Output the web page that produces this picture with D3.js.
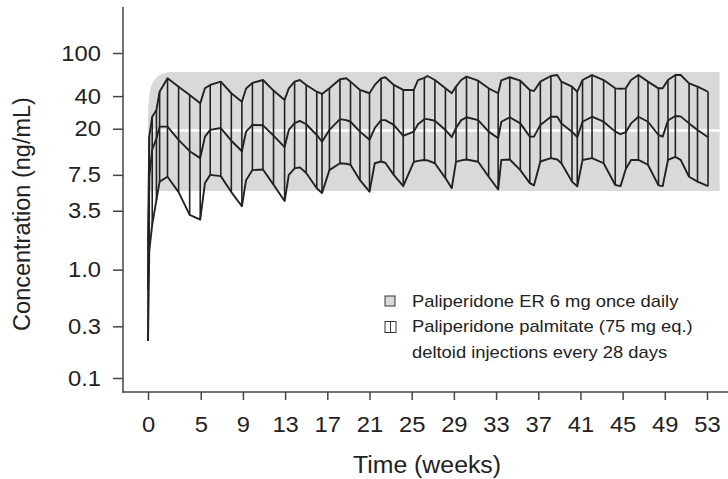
<!DOCTYPE html>
<html>
<head>
<meta charset="utf-8">
<script src="https://cdn.jsdelivr.net/npm/d3@7"></script>
<style>
  body { margin: 0; background: #fff; }
  svg { display: block; font-family: 'Liberation Sans', Arial, sans-serif; }
</style>
</head>
<body>
<svg id="chart"></svg>
<script>
// Paliperidone palmitate: weekly sample times plus the rise points right after each injection
const weeks = [
  0, 0.12, 0.4, 0.8, 1.1, 1.85, 2.9, 3.95,
  4.95, 5.4, 5.9, 6.9, 7.9,
  8.9, 9.3, 9.9, 10.9, 11.9,
  12.95, 13.35, 13.9, 14.4, 15.0, 16.0,
  16.5, 17.2, 18.2, 18.8, 19.2, 20.1,
  21.0, 21.5, 22.1, 22.5, 23.3, 24.2,
  25.2, 25.6, 26.2, 26.5, 27.2, 28.2,
  28.8, 29.2, 29.7, 30.2, 31.3, 32.3,
  33.2, 33.5, 34.3, 35.3, 36.2,
  36.6, 37.2, 38.2, 38.8, 39.2, 40.2,
  40.7, 41.2, 42.1, 43.2, 44.3,
  44.8, 45.3, 45.8, 46.5, 47.4, 48.4,
  48.8, 49.3, 50.0, 50.5, 51.3, 52.1, 53.1
]
const upper = [
  1.8, 17, 25.8, 29.8, 43.9, 58.4, 48.9, 41,
  34.3, 47.2, 50.7, 54.4, 42.5,
  35.5, 47, 53, 56.3, 45,
  36.9, 47.2, 54.4, 56.3, 50.7, 43.9,
  41.9, 47.2, 57.3, 58.4, 54.4, 45.6,
  42.5, 50.7, 58.4, 59.7, 50.7, 45.6,
  45.6, 56.3, 59, 61.3, 56.3, 47.2,
  42.5, 49, 56.3, 60.5, 55.5, 47.2,
  42.5, 56, 59.7, 55.5, 45.6,
  44.5, 54.4, 61.3, 62.6, 54.4, 48.9,
  43.9, 56.3, 62.6, 56.3, 47.2,
  46.8, 47.2, 56.3, 62.6, 54.4, 47.2,
  47.2, 56.3, 62.6, 62.6, 52.5, 48.9, 43.9
]
const median = [
  0.65, 7.2, 12.8, 16.3, 20.9, 20.9, 15.8, 12.4,
  10.7, 16.9, 19.5, 20.3, 15.5,
  12.4, 18.8, 21.7, 21.5, 17.3,
  13.5, 19.5, 22.5, 23.6, 22, 17.5,
  15.2, 19.5, 24.5, 24, 23.2, 18.8,
  15.8, 20.3, 24, 24, 21.7, 17.2,
  18.8, 22, 24.5, 24.5, 23.7, 19.5,
  16.7, 20.3, 24, 25.5, 24, 18.8,
  16.3, 23.2, 25.5, 22.4, 16.9,
  16.9, 21.7, 25.8, 25.8, 22.4, 18.8,
  16.7, 23.2, 25.8, 23.2, 18.8,
  17.8, 18.6, 22.4, 25.8, 23.2, 17.5,
  16.9, 23.8, 26.2, 26, 22.4, 19.5, 16.7
]
const lower = [
  0.22, 1.5, 2.6, 4.4, 6.5, 7.2, 5.2, 3.2,
  2.9, 6.3, 7.5, 7.3, 5.2,
  3.85, 6.7, 8.3, 8.4, 6.1,
  4.3, 7.5, 8.6, 8.8, 7.8, 5.65,
  5.1, 8.3, 9.6, 9.5, 9.3, 6.7,
  5.25, 9.6, 9.96, 9.7, 7.5, 5.9,
  9.9, 10.1, 10.3, 10.2, 9.6, 7.0,
  5.65, 9.9, 10.2, 10.4, 9.9, 7.2,
  5.5, 10.3, 10.4, 8.3, 6.3,
  6.0, 9.96, 10.7, 10.4, 9.6, 6.5,
  5.87, 10.3, 10.7, 9.6, 6.05,
  5.9, 8.5, 10.3, 10.3, 9.3, 6.0,
  5.9, 10.3, 11, 10.3, 7.2, 6.5, 5.9
]
// sample times drawn without a vertical hatch line
const noHatchWeeks = [5.4, 9.3, 13.35, 14.4, 18.8, 21.5, 22.5, 25.6, 26.5, 28.8,
  29.7, 33.5, 36.6, 38.8, 44.8, 45.8, 48.8, 50.5]

// Paliperidone ER 6 mg once daily band
const erWeeks = [0, 0.2, 0.7, 1.35, 2.1, 54.2]
const erUpper = [30, 45, 58, 64, 66.8, 66.8]
const erLower = [5.33, 5.33, 5.33, 5.33, 5.33, 5.33]
const erMedianWeeks = [0.4, 54.2]
const erMedian = [19.3, 19.3]

const xTicks = [0, 5, 9, 13, 17, 21, 25, 29, 33, 37, 41, 45, 49, 53]
const yTicks = [0.1, 0.3, 1, 3.5, 7.5, 20, 40, 100]
const yTickLabels = ['0.1', '0.3', '1.0', '3.5', '7.5', '20', '40', '100']
const legendLabels = ['Paliperidone ER 6 mg once daily',
  'Paliperidone palmitate (75 mg eq.)', 'deltoid injections every 28 days']

const width = 728
const height = 479
const lineColor = '#222'
const axisColor = '#444'
const textColor = '#222'
const stretch = 1.08

const svg = d3.select('#chart').attr('width', width).attr('height', height)

const x = d3.scaleLinear().domain([0, 53]).range([148, 707])
const y = d3.scaleLog().domain([0.1, 100]).range([378, 53])

function widen(sel) {
  sel.each(function () {
    const w = this.getComputedTextLength()
    this.setAttribute('textLength', w * stretch)
    this.setAttribute('lengthAdjust', 'spacingAndGlyphs')
  })
}

// ER band
const erData = erWeeks.map((w, i) => ({ w, hi: erUpper[i], lo: erLower[i] }))
svg.append('path')
  .datum(erData)
  .attr('fill', '#d9d9d9')
  .attr('d', d3.area()
    .x(d => x(d.w))
    .y0(d => y(d.lo))
    .y1(d => y(d.hi))
    .curve(d3.curveMonotoneX))

svg.append('path')
  .datum(erMedianWeeks.map((w, i) => ({ w, v: erMedian[i] })))
  .attr('fill', 'none')
  .attr('stroke', '#fff')
  .attr('stroke-width', 2.5)
  .attr('d', d3.line().x(d => x(d.w)).y(d => y(d.v)))

// palmitate hatch
const pts = weeks.map((w, i) => ({ w, hi: upper[i], mid: median[i], lo: lower[i] }))
svg.append('g')
  .selectAll('line')
  .data(pts.filter(d => !noHatchWeeks.includes(d.w)))
  .join('line')
  .attr('x1', d => x(d.w)).attr('x2', d => x(d.w))
  .attr('y1', d => y(d.hi)).attr('y2', d => y(d.lo))
  .attr('stroke', lineColor)
  .attr('stroke-width', 1.6)

for (const key of ['hi', 'mid', 'lo']) {
  svg.append('path')
    .datum(pts)
    .attr('fill', 'none')
    .attr('stroke', lineColor)
    .attr('stroke-width', 1.9)
    .attr('stroke-linejoin', 'round')
    .attr('d', d3.line().x(d => x(d.w)).y(d => y(d[key])))
}

// axes
const yAxis = svg.append('g')
  .attr('transform', 'translate(123,0)')
  .call(d3.axisLeft(y).tickValues(yTicks).tickFormat((d, i) => yTickLabels[i])
    .tickSize(10).tickPadding(12).tickSizeOuter(0))
yAxis.select('.domain').remove()
yAxis.selectAll('line').attr('stroke', axisColor).attr('stroke-width', 1.5)
yAxis.selectAll('text').attr('font-size', 22).attr('fill', textColor)
  .attr('font-family', "'Liberation Sans', Arial, sans-serif").call(widen)
svg.append('line')
  .attr('x1', 123).attr('x2', 123).attr('y1', 7).attr('y2', 392.5)
  .attr('stroke', axisColor).attr('stroke-width', 1.5)

const xAxis = svg.append('g')
  .attr('transform', 'translate(0,392)')
  .call(d3.axisBottom(x).tickValues(xTicks).tickSize(8).tickPadding(16).tickSizeOuter(0))
xAxis.select('.domain').remove()
xAxis.selectAll('line').attr('stroke', axisColor).attr('stroke-width', 1.5)
xAxis.selectAll('text').attr('font-size', 22).attr('fill', textColor)
  .attr('font-family', "'Liberation Sans', Arial, sans-serif").call(widen)
svg.append('line')
  .attr('x1', 122.25).attr('x2', width).attr('y1', 392).attr('y2', 392)
  .attr('stroke', axisColor).attr('stroke-width', 1.5)

svg.append('text')
  .attr('x', 427).attr('y', 473)
  .attr('text-anchor', 'middle')
  .attr('font-size', 23).attr('fill', textColor)
  .text('Time (weeks)')
  .call(widen)

svg.append('text')
  .attr('transform', 'translate(30,214) rotate(-90)')
  .attr('text-anchor', 'middle')
  .attr('font-size', 23.5).attr('fill', textColor)
  .text('Concentration (ng/mL)')

// legend
const legend = svg.append('g')
legend.append('rect')
  .attr('x', 385).attr('y', 296).attr('width', 10).attr('height', 10)
  .attr('fill', '#d9d9d9').attr('stroke', '#333').attr('stroke-width', 1)
legend.append('rect')
  .attr('x', 385).attr('y', 321.5).attr('width', 11).attr('height', 11)
  .attr('fill', '#fff').attr('stroke', '#333').attr('stroke-width', 1)
legend.append('line')
  .attr('x1', 390.5).attr('x2', 390.5).attr('y1', 321.5).attr('y2', 332.5)
  .attr('stroke', '#333').attr('stroke-width', 1)
legend.selectAll('text')
  .data(legendLabels)
  .join('text')
  .attr('x', 412)
  .attr('y', (d, i) => 306.5 + i * 25.5)
  .attr('font-size', 17).attr('fill', textColor)
  .text(d => d)
  .call(widen)
</script>
</body>
</html>
